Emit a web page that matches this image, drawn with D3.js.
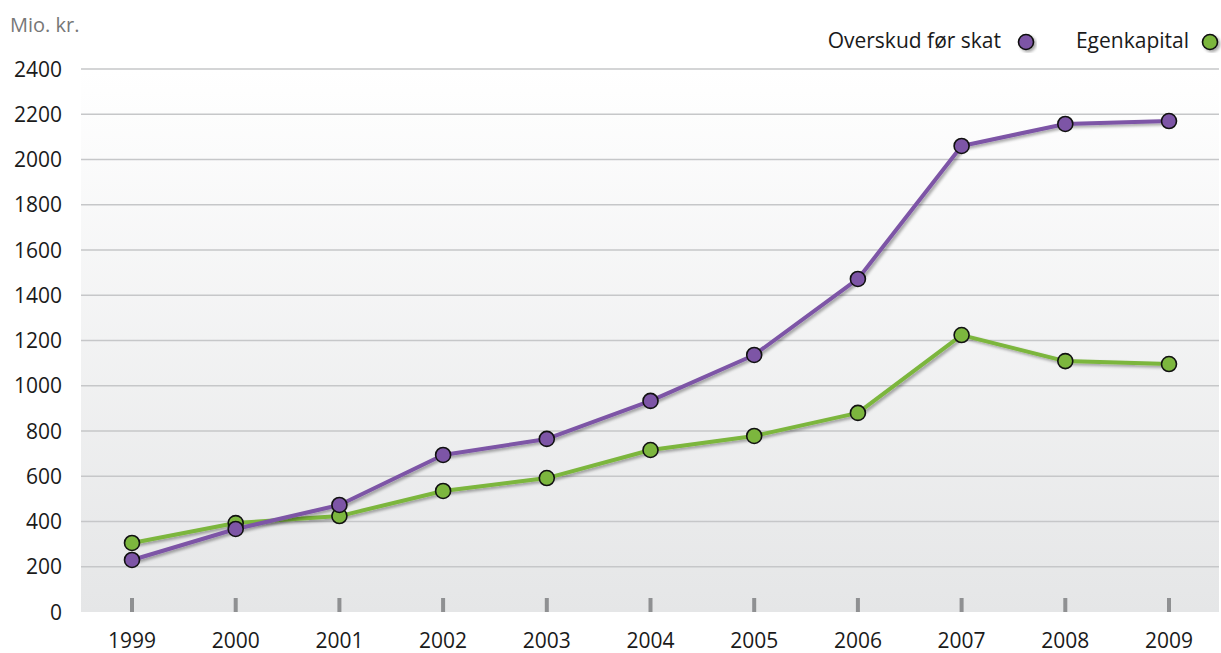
<!DOCTYPE html>
<html><head><meta charset="utf-8">
<script src="https://cdn.jsdelivr.net/npm/d3@7"></script>
<style>body{margin:0;background:#fff;}svg{display:block;font-family:"Open Sans","DejaVu Sans",sans-serif;}</style>
</head><body><svg id="c" width="1221" height="653"></svg>
<script>
const years = [1999,2000,2001,2002,2003,2004,2005,2006,2007,2008,2009];
const overskud = [230,367,473,694,765,933,1136,1472,2060,2157,2170];
const egenkapital = [305,393,424,535,592,716,778,880,1224,1109,1096];
const yTicks = [0,200,400,600,800,1000,1200,1400,1600,1800,2000,2200,2400];
const seriesNames = ["Overskud før skat","Egenkapital"];
const seriesColors = ["#7d55a6","#7cb63e"];

const svg = d3.select("#c");
const L=81, R=1219, T=69, B=612;
const x = d3.scalePoint().domain(years).range([132,1169]);
const y = d3.scaleLinear().domain([0,2400]).range([B,T]);

const defs = svg.append("defs");
const g = defs.append("linearGradient").attr("id","bg").attr("x1",0).attr("y1",0).attr("x2",0).attr("y2",1);
g.append("stop").attr("offset","0%").attr("stop-color","#ffffff");
g.append("stop").attr("offset","100%").attr("stop-color","#e5e6e7");
const f = defs.append("filter").attr("id","sh").attr("x","-20%").attr("y","-20%").attr("width","140%").attr("height","140%");
f.append("feGaussianBlur").attr("in","SourceAlpha").attr("stdDeviation",1.5).attr("result","b");
f.append("feOffset").attr("in","b").attr("dx",2).attr("dy",2).attr("result","o");
f.append("feComponentTransfer").attr("in","o").attr("result","o2").append("feFuncA").attr("type","linear").attr("slope",0.35);
const m = f.append("feMerge"); m.append("feMergeNode").attr("in","o2"); m.append("feMergeNode").attr("in","SourceGraphic");

svg.append("rect").attr("x",L).attr("y",T).attr("width",R-L).attr("height",B-T).attr("fill","url(#bg)");

svg.append("g").selectAll("line").data(yTicks.filter(d=>d>0)).join("line")
  .attr("x1",L).attr("x2",R).attr("y1",d=>y(d)).attr("y2",d=>y(d))
  .attr("stroke","#c6c7c9").attr("stroke-width",1.5);

svg.append("g").selectAll("text").data(yTicks).join("text")
  .attr("x",62).attr("y",d=>y(d)+7.5).attr("text-anchor","end")
  .attr("font-size",21).attr("fill","#1a1a1a").text(d=>d);

svg.append("g").selectAll("rect").data(years).join("rect")
  .attr("x",d=>x(d)-2).attr("y",598).attr("width",4).attr("height",14).attr("fill","#8f9092");

svg.append("g").selectAll("text").data(years).join("text")
  .attr("x",d=>x(d)).attr("y",648).attr("text-anchor","middle")
  .attr("font-size",21).attr("fill","#1a1a1a").text(d=>d);

svg.append("text").attr("x",10).attr("y",32).attr("font-size",20).attr("fill","#777").text("Mio. kr.");

const data = [overskud, egenkapital];
const line = d3.line().x((d,i)=>x(years[i])).y(d=>y(d));
[1,0].forEach(si=>{
  svg.append("path").datum(data[si]).attr("d",line).attr("fill","none")
    .attr("stroke",seriesColors[si]).attr("stroke-width",4).attr("stroke-linejoin","round").attr("filter","url(#sh)");
});
[1,0].forEach(si=>{
  svg.append("g").selectAll("circle").data(data[si]).join("circle")
    .attr("cx",(d,i)=>x(years[i])).attr("cy",d=>y(d)).attr("r",7.5)
    .attr("fill",seriesColors[si]).attr("stroke","#111").attr("stroke-width",1.6);
});

const leg = [{name:seriesNames[0],tx:1001,cx:1026},{name:seriesNames[1],tx:1189,cx:1210}];
leg.forEach((l,i)=>{
  svg.append("text").attr("x",l.tx).attr("y",48).attr("text-anchor","end").attr("font-size",21).attr("fill","#1a1a1a").text(l.name);
  svg.append("circle").attr("cx",l.cx).attr("cy",42).attr("r",7.5).attr("fill",seriesColors[i]).attr("stroke","#111").attr("stroke-width",1.6).attr("filter","url(#sh)");
});
</script></body></html>
